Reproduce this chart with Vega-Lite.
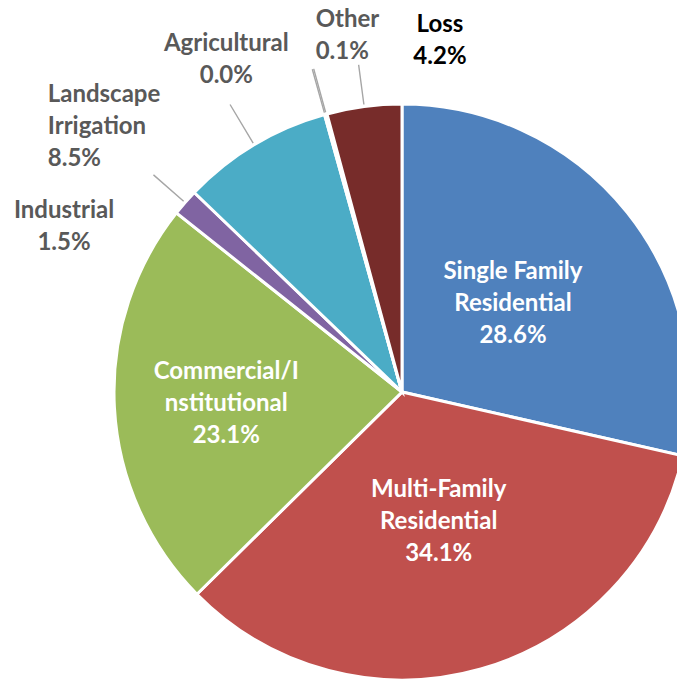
{
  "$schema": "https://vega.github.io/schema/vega-lite/v6.json",
  "width": 804,
  "height": 784,
  "autosize": {"type": "none"},
  "padding": 0,
  "background": "white",
  "view": {"stroke": null},
  "data": {
    "values": [
      {"i": 1, "cat": "Single Family Residential", "value": 28.6, "label": "Single Family\nResidential\n28.6%"},
      {"i": 2, "cat": "Multi-Family Residential", "value": 34.1, "label": "Multi-Family\nResidential\n34.1%"},
      {"i": 3, "cat": "Commercial/Institutional", "value": 23.1, "label": "Commercial/I\nnstitutional\n23.1%"},
      {"i": 4, "cat": "Industrial", "value": 1.5, "label": "Industrial\n1.5%"},
      {"i": 5, "cat": "Landscape Irrigation", "value": 8.5, "label": "Landscape\nIrrigation\n8.5%"},
      {"i": 6, "cat": "Agricultural", "value": 0.04, "label": "Agricultural\n0.0%"},
      {"i": 7, "cat": "Other", "value": 0.1, "label": "Other\n0.1%"},
      {"i": 8, "cat": "Loss", "value": 4.2, "label": "Loss\n4.2%"}
    ]
  },
  "encoding": {
    "theta": {"field": "value", "type": "quantitative", "stack": true},
    "order": {"field": "i", "type": "quantitative"},
    "detail": {"field": "cat", "type": "nominal"}
  },
  "layer": [
    {
      "mark": {"type": "arc", "outerRadius": 288, "stroke": "white", "strokeWidth": 3},
      "encoding": {
        "color": {
          "field": "cat", "type": "nominal", "legend": null,
          "scale": {
            "domain": ["Single Family Residential", "Multi-Family Residential", "Commercial/Institutional", "Industrial", "Landscape Irrigation", "Agricultural", "Other", "Loss"],
            "range": ["#4F81BD", "#C0504D", "#9BBB59", "#8064A2", "#4BACC6", "#F79646", "#2C4D75", "#772C2A"]
          }
        }
      }
    },
    {
      "mark": {"type": "arc", "filled": false, "innerRadius": 290, "outerRadius": 330, "padAngle": 0.8, "strokeWidth": 1.4},
      "encoding": {"color": {"value": "#A6A6A6"}, "opacity": {"condition": {"test": "datum.cat === 'Industrial'", "value": 1}, "value": 0}}
    },
    {
      "mark": {"type": "arc", "filled": false, "innerRadius": 290, "outerRadius": 335, "padAngle": 0.8, "strokeWidth": 1.4},
      "encoding": {"color": {"value": "#A6A6A6"}, "opacity": {"condition": {"test": "datum.cat === 'Landscape Irrigation'", "value": 1}, "value": 0}}
    },
    {
      "mark": {"type": "arc", "filled": false, "innerRadius": 290, "outerRadius": 335, "padAngle": 0.8, "strokeWidth": 1.4},
      "encoding": {"color": {"value": "#A6A6A6"}, "opacity": {"condition": {"test": "datum.cat === 'Agricultural' || datum.cat === 'Other'", "value": 1}, "value": 0}}
    },
    {
      "mark": {"type": "arc", "filled": false, "innerRadius": 290, "outerRadius": 330, "padAngle": 0.8, "strokeWidth": 1.4},
      "encoding": {"color": {"value": "#A6A6A6"}, "opacity": {"condition": {"test": "datum.cat === 'Loss'", "value": 1}, "value": 0}}
    },
    {
      "mark": {"type": "text", "radius": 142, "dy": -31, "font": "Lato", "fontWeight": "bold", "fontSize": 24, "lineBreak": "\n", "lineHeight": 32, "align": "center", "baseline": "middle"},
      "encoding": {"color": {"value": "white"}, "text": {"condition": {"test": "datum.cat === 'Single Family Residential'", "field": "label", "type": "nominal"}, "value": ""}}
    },
    {
      "mark": {"type": "text", "radius": 134, "dy": -31, "font": "Lato", "fontWeight": "bold", "fontSize": 24, "lineBreak": "\n", "lineHeight": 32, "align": "center", "baseline": "middle"},
      "encoding": {"color": {"value": "white"}, "text": {"condition": {"test": "datum.cat === 'Multi-Family Residential'", "field": "label", "type": "nominal"}, "value": ""}}
    },
    {
      "mark": {"type": "text", "radius": 176, "dy": -29, "font": "Lato", "fontWeight": "bold", "fontSize": 24, "lineBreak": "\n", "lineHeight": 32, "align": "center", "baseline": "middle"},
      "encoding": {"color": {"value": "white"}, "text": {"condition": {"test": "datum.cat === 'Commercial/Institutional'", "field": "label", "type": "nominal"}, "value": ""}}
    },
    {
      "mark": {"type": "text", "radius": 320, "dx": -97, "dy": 30, "font": "Lato", "fontWeight": "bold", "fontSize": 24, "lineBreak": "\n", "lineHeight": 32, "align": "center", "baseline": "middle"},
      "encoding": {"color": {"value": "#595959"}, "text": {"condition": {"test": "datum.cat === 'Industrial'", "field": "label", "type": "nominal"}, "value": ""}}
    },
    {
      "mark": {"type": "text", "radius": 320, "dx": -190, "dy": -22, "font": "Lato", "fontWeight": "bold", "fontSize": 24, "lineBreak": "\n", "lineHeight": 32, "align": "left", "baseline": "middle"},
      "encoding": {"color": {"value": "#595959"}, "text": {"condition": {"test": "datum.cat === 'Landscape Irrigation'", "field": "label", "type": "nominal"}, "value": ""}}
    },
    {
      "mark": {"type": "text", "radius": 320, "dx": -90, "dy": -40, "font": "Lato", "fontWeight": "bold", "fontSize": 24, "lineBreak": "\n", "lineHeight": 32, "align": "center", "baseline": "middle"},
      "encoding": {"color": {"value": "#595959"}, "text": {"condition": {"test": "datum.cat === 'Agricultural'", "field": "label", "type": "nominal"}, "value": ""}}
    },
    {
      "mark": {"type": "text", "radius": 320, "dx": -2, "dy": -63, "font": "Lato", "fontWeight": "bold", "fontSize": 24, "lineBreak": "\n", "lineHeight": 32, "align": "left", "baseline": "middle"},
      "encoding": {"color": {"value": "#595959"}, "text": {"condition": {"test": "datum.cat === 'Other'", "field": "label", "type": "nominal"}, "value": ""}}
    },
    {
      "mark": {"type": "text", "radius": 320, "dx": 80, "dy": -50, "font": "Lato", "fontWeight": "bold", "fontSize": 24, "lineBreak": "\n", "lineHeight": 32, "align": "center", "baseline": "middle"},
      "encoding": {"color": {"value": "black"}, "text": {"condition": {"test": "datum.cat === 'Loss'", "field": "label", "type": "nominal"}, "value": ""}}
    }
  ]
}
